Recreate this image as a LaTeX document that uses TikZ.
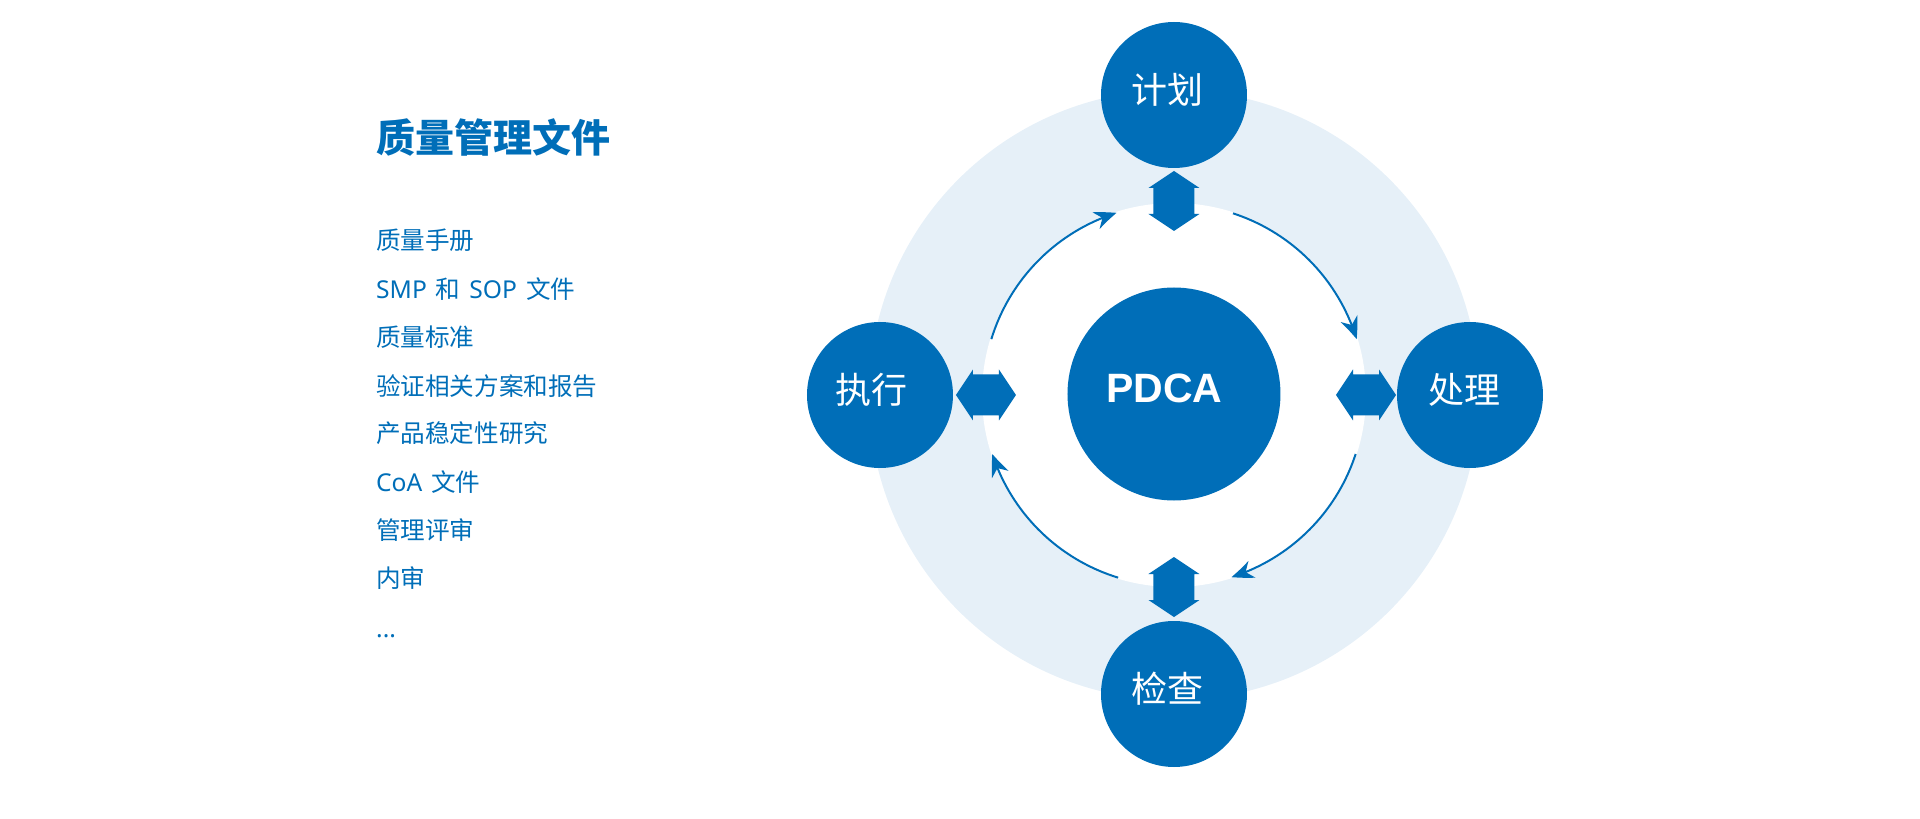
\documentclass[tikz,border=0pt]{standalone}
\usepackage{fontspec}
\setmainfont{Noto Sans CJK SC}
\newfontfamily\pdcafont{Liberation Sans}
\newfontfamily\latn{Noto Sans}
\usetikzlibrary{arrows.meta,bending}
\definecolor{pblue}{RGB}{0,110,184}
\definecolor{plight}{RGB}{230,240,248}
\tikzset{
  dblarrow/.pic={\fill[pblue] (0,30) -- (25.5,13) -- (20.5,13) -- (20.5,-13) -- (25.5,-13) -- (0,-30)
     -- (-25.5,-13) -- (-20.5,-13) -- (-20.5,13) -- (-25.5,13) -- cycle;},
}
\begin{document}
\begin{tikzpicture}[x=1pt,y=1pt,
  stage/.style={circle,fill=pblue,minimum size=146pt,inner sep=0pt},
  hub/.style={circle,fill=pblue,minimum size=213pt,inner sep=0pt},
  stagetxt/.style={text=white,font=\fontsize{36}{40}\selectfont,inner sep=0pt},
  listitem/.style={anchor=base west,inner sep=0pt,text=pblue,font=\fontsize{24.6}{30}\selectfont},
  titletxt/.style={anchor=base west,inner sep=0pt,text=pblue,font=\fontsize{39}{44}\selectfont\bfseries},
  cyc/.style={draw=pblue,line width=2pt,-{Stealth[length=22pt,width=18pt,inset=7pt,bend]}},
]
\useasboundingbox (-1174,-424) rectangle (746,395);
% rings
\fill[plight] (0,0) circle[radius=305];
\fill[white] (0,0) circle[radius=192];
% cycle arcs
\coordinate (s1) at (72:191);
\coordinate (s2) at (-18:191);
\coordinate (s3) at (-107:191);
\coordinate (s4) at (163:191);
\draw[cyc] (s1) arc[start angle=72,end angle=17,radius=191];
\draw[cyc] (s2) arc[start angle=-18,end angle=-72.5,radius=191];
\draw[cyc] (s3) arc[start angle=-107,end angle=-162,radius=191];
\draw[cyc] (s4) arc[start angle=163,end angle=107.5,radius=191];
% double arrows
\pic at (0,194) {dblarrow};
\pic at (0,-192) {dblarrow};
\pic[rotate=90] at (-188,0) {dblarrow};
\pic[rotate=90] at (192,0) {dblarrow};
% stages
\node[stage] (plan) at (0,300) {};
\node[stage] (act) at (296,0) {};
\node[stage] (check) at (0,-299) {};
\node[stage] (do) at (-294,0) {};
\node[hub] (hub) at (0,1) {};
\node[stagetxt] at ([shift={(-6,5)}]plan.center) {计划};
\node[stagetxt] at ([shift={(-6,5)}]act.center) {处理};
\node[stagetxt] at ([shift={(-6,5)}]check.center) {检查};
\node[stagetxt] at ([shift={(-8,5)}]do.center) {执行};
\node[text=white,inner sep=0pt,font=\pdcafont\fontsize{41}{44}\selectfont\bfseries] at ([shift={(-9.5,6)}]hub.center) {PDCA};
% left list
\node[titletxt] (title) at (-798,242) {质量管理文件};
\node[listitem] (l1) at (-798,145.5) {质量手册};
\node[listitem] (l2) at (-798,96.5) {{\latn SMP}\hspace{9pt}和\hspace{9pt}{\latn SOP}\hspace{9pt}文件};
\node[listitem] (l3) at (-798,48.5) {质量标准};
\node[listitem] (l4) at (-798,-0.5) {验证相关方案和报告};
\node[listitem] (l5) at (-798,-48) {产品稳定性研究};
\node[listitem] (l6) at (-798,-96.5) {{\latn CoA}\hspace{9pt}文件};
\node[listitem] (l7) at (-798,-144.5) {管理评审};
\node[listitem] (l8) at (-798,-192.5) {内审};
\node[listitem] (l9) at (-798,-242) {{\latn ...}};
\end{tikzpicture}
\end{document}
